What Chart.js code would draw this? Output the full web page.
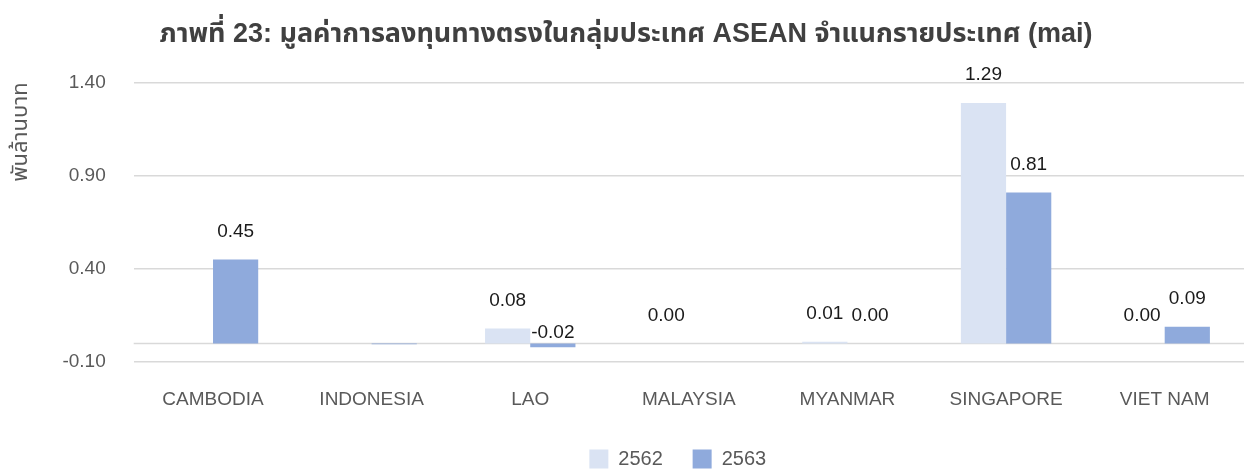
<!DOCTYPE html>
<html>
<head>
<meta charset="utf-8">
<script src="https://cdn.jsdelivr.net/npm/chart.js@4.4.1/dist/chart.umd.min.js"></script>
<style>
  html, body { margin: 0; padding: 0; background: #ffffff; }
  #wrap { width: 1244px; height: 470px; }
</style>
</head>
<body>
<div id="wrap"><canvas id="fdiChart"></canvas></div>
<script>
// Data (พันล้านบาท)
const countries = ['CAMBODIA', 'INDONESIA', 'LAO', 'MALAYSIA', 'MYANMAR', 'SINGAPORE', 'VIET NAM'];
const years = ['2562', '2563'];
const values2562 = [null, null, 0.08, 0.00, 0.01, 1.29, 0.00];
const values2563 = [0.45, -0.004, -0.02, null, 0.00, 0.81, 0.09];
// points whose value label is not shown in the reference
const hideLabel2562 = [true, true, false, false, false, false, false];
const hideLabel2563 = [false, true, false, true, false, false, false];
const yTicks = [-0.10, 0.40, 0.90, 1.40];

const FONT = '"Liberation Sans", Arial, "Noto Sans Thai", sans-serif';

/**
 * Zero line + value labels (Excel style "outside end")
 */
const excelExtras = {
    id: 'excelExtras',
    beforeDatasetsDraw(chart) {
        const { ctx, chartArea, scales } = chart;
        const y0 = scales.y.getPixelForValue(0);
        ctx.save();
        ctx.strokeStyle = '#d9d9d9';
        ctx.lineWidth = 1.5;
        ctx.beginPath();
        ctx.moveTo(chartArea.left, y0);
        ctx.lineTo(chartArea.right, y0);
        ctx.stroke();
        ctx.restore();
    },
    afterDatasetsDraw(chart) {
        const { ctx, scales } = chart;
        const hidden = [hideLabel2562, hideLabel2563];
        ctx.save();
        ctx.font = '19px ' + FONT;
        ctx.fillStyle = '#1a1a1a';
        ctx.textAlign = 'center';
        ctx.textBaseline = 'middle';
        chart.data.datasets.forEach((ds, di) => {
            const meta = chart.getDatasetMeta(di);
            meta.data.forEach((bar, i) => {
                const v = ds.data[i];
                if (v === null || hidden[di][i]) return;
                const base = scales.y.getPixelForValue(0);
                let y;
                if (v < 0) {
                    y = base - 11;
                } else {
                    y = scales.y.getPixelForValue(v) - 28;
                }
                ctx.fillText(v.toFixed(2), bar.x, y);
            });
        });
        ctx.restore();
    }
};

new Chart(document.getElementById('fdiChart'), {
    type: 'bar',
    data: {
        labels: countries,
        datasets: [{
            label: years[0],
            data: values2562,
            backgroundColor: '#dae3f3',
            categoryPercentage: 0.57,
            barPercentage: 1.0
        }, {
            label: years[1],
            data: values2563,
            backgroundColor: '#8faadc',
            categoryPercentage: 0.57,
            barPercentage: 1.0
        }]
    },
    options: {
        responsive: true,
        maintainAspectRatio: false,
        animation: false,
        layout: {
            padding: { left: 8, right: 0, top: 4, bottom: -9 }
        },
        plugins: {
            title: {
                display: true,
                text: 'ภาพที่ 23: มูลค่าการลงทุนทางตรงในกลุ่มประเทศ ASEAN จำแนกรายประเทศ (mai)',
                color: '#404040',
                font: { family: FONT, size: 27, weight: 'bold' },
                padding: { top: 14, bottom: 32 }
            },
            legend: {
                position: 'bottom',
                fullSize: false,
                labels: {
                    color: '#595959',
                    font: { family: FONT, size: 20 },
                    boxWidth: 19,
                    boxHeight: 19,
                    padding: 2,
                    generateLabels: function (chart) {
                        const items = Chart.defaults.plugins.legend.labels.generateLabels(chart);
                        // wider gap between legend entries, legend sits a bit left of centre
                        items.forEach((item, i) => {
                            item.text += (i < items.length - 1) ? '\u00a0\u00a0\u00a0\u00a0\u00a0' : '\u00a0\u00a0\u00a0\u00a0';
                        });
                        return items;
                    }
                }
            },
            tooltip: { enabled: false }
        },
        scales: {
            y: {
                min: -0.10,
                max: 1.40,
                afterBuildTicks: function (scale) {
                    scale.ticks = yTicks.map(v => ({ value: v }));
                },
                ticks: {
                    color: '#595959',
                    font: { family: FONT, size: 19 },
                    padding: 28,
                    callback: function (value) {
                        return Number(value).toFixed(2);
                    }
                },
                grid: {
                    color: '#d9d9d9',
                    lineWidth: 1.5,
                    drawTicks: false
                },
                border: { display: false },
                title: {
                    display: true,
                    text: 'พันล้านบาท',
                    align: 'end',
                    color: '#595959',
                    font: { family: FONT, size: 22 },
                    padding: 0
                }
            },
            x: {
                afterFit: function (scale) {
                    scale.height += 10;
                },
                ticks: {
                    color: '#595959',
                    font: { family: FONT, size: 19 },
                    padding: 26
                },
                grid: { display: false, drawTicks: false },
                border: { display: false }
            }
        }
    },
    plugins: [excelExtras]
});
</script>
</body>
</html>
